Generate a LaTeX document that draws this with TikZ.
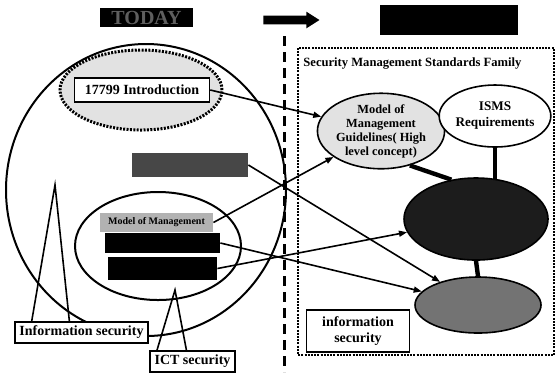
\documentclass[tikz,border=0pt]{standalone}
\usepackage{fontspec}
\setmainfont{Liberation Serif}
\usetikzlibrary{arrows.meta,calc,shapes.geometric,shapes.arrows,positioning}
\definecolor{stipplegray}{RGB}{226,226,226}
\definecolor{panelgray}{RGB}{120,120,120}
\definecolor{lettergray}{RGB}{95,95,95}
\definecolor{corefill}{RGB}{28,28,28}
\tikzset{
  ring/.style={ellipse,draw=black,line width=1pt,inner sep=0pt},
  dottedring/.style={ellipse,draw=black,line width=1.5pt,dash pattern=on 1pt off 0.7pt,
                     fill=stipplegray,inner sep=0pt},
  tag/.style={draw=black,line width=0.8pt,fill=white,inner sep=1pt,
              font=\fontsize{7}{8}\selectfont\bfseries},
  darkbox/.style={fill=black,inner sep=0pt},
  titlebox/.style={fill=black,inner sep=0pt,text=lettergray,font=\fontsize{10}{11}\selectfont\bfseries},
  stdellipse/.style={ellipse,draw=black,line width=0.8pt,inner sep=0pt,align=center,
                     font=\fontsize{6.2}{7}\selectfont\bfseries},
  link/.style={-{Triangle[length=4pt,width=3pt]},line width=0.8pt},
  bond/.style={line width=2.2pt},
  legline/.style={line width=0.8pt},
  divider/.style={line width=1.5pt,dash pattern=on 5pt off 3pt},
  frame/.style={line width=1pt,dash pattern=on 1pt off 0.6pt},
}

\begin{document}
\begin{tikzpicture}[x=0.5pt,y=-0.5pt]
  \path[use as bounding box] (0,0) rectangle (560,372);

  % headings
  \node[titlebox,minimum width=46.5pt,minimum height=9.5pt] (today) at (146.5,17.5) {TODAY};
  \node[darkbox,minimum width=69pt,minimum height=15pt] (future) at (449,20) {};
  \node[single arrow,fill=black,inner sep=2pt,minimum width=8pt,minimum height=28pt,
        single arrow tip angle=65,single arrow head extend=2pt] (goarrow) at (288,20) {};

  % left side: today
  \node[ring,minimum width=140pt,minimum height=146pt] (infosphere) at (146,190) {};
  \node[dottedring,minimum width=81pt,minimum height=40pt] (introzone) at (141,90) {};
  \node[tag,minimum width=67.5pt,minimum height=12pt] (intro) at (142,90) {17799 Introduction};
  \node[darkbox,fill=black!72,minimum width=58pt,minimum height=12pt] (greybox) at (190,165) {};
  \node[ring,minimum width=83pt,minimum height=54pt] (ictsphere) at (158,246) {};
  \node[fill=black!30,inner sep=0pt,minimum width=56.5pt,minimum height=9.5pt,
        font=\fontsize{5}{6}\selectfont\bfseries] (modelbox) at (156.5,222.5) {Model of Management};
  \node[darkbox,minimum width=57.5pt,minimum height=10pt] (blackbox2) at (162.5,243) {};
  \node[darkbox,minimum width=54.5pt,minimum height=11.5pt] (blackbox3) at (162.5,268.5) {};

  % callouts
  \node[tag,minimum width=66.5pt,minimum height=10.5pt] (infosec) at (81.5,332.5) {Information security};
  \node[tag,minimum width=42.5pt,minimum height=10.5pt] (ictsec) at (192.5,361.5) {ICT security};
  \coordinate (infotip) at (55,185);
  \coordinate (icttip) at (175,290);
  \draw[legline] ($(infosec.north west)!0.13!(infosec.north east)$) -- (infotip)
    -- ($(infosec.north west)!0.41!(infosec.north east)$);
  \draw[legline] ($(ictsec.north west)!0.09!(ictsec.north east)$) -- (icttip)
    -- ($(ictsec.north west)!0.43!(ictsec.north east)$);

  % right side: standards family
  \draw[divider] (284,36) -- (284,372);
  \draw[frame] (298,48) rectangle (554,355);
  \node[anchor=west,inner sep=0pt,font=\fontsize{6.3}{7}\selectfont\bfseries] (familytitle) at (303,64)
    {Security Management Standards Family};
  \node[stdellipse,fill=stipplegray,minimum width=57pt,minimum height=37pt] (guideline) at (381,131)
    {Model of\\Management\\Guidelines( High\\level concept)};
  \node[stdellipse,fill=white,minimum width=53pt,minimum height=31pt,
        font=\fontsize{6.6}{8}\selectfont\bfseries] (isms) at (495,116) {ISMS\\Requirements};
  \node[stdellipse,fill=corefill,minimum width=72pt,minimum height=41pt] (core) at (476,219) {};
  \node[stdellipse,fill=black!55,minimum width=63pt,minimum height=28pt] (practice) at (478,305) {};
  \node[tag,align=center,minimum width=51.5pt,minimum height=21pt] (infosecbox) at (358,331)
    {information\\security};

  % connectors
  \draw[bond] (guideline.-50) -- (core.122);
  \draw[bond,shorten >=-1pt] (isms.south) -- (core.north -| isms.south);
  \draw[bond] (core.south) -- (practice.north);
  \draw[link] (intro.east) -- (guideline);
  \draw[link] (modelbox.east) -- (guideline);
  \draw[link] (greybox.east) -- (practice);
  \draw[link] (blackbox2.east) -- (practice);
  \draw[link] (blackbox3.east) -- (core);
\end{tikzpicture}
\end{document}
